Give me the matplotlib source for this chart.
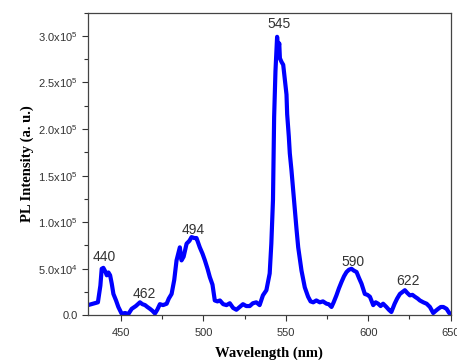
import matplotlib
matplotlib.use("Agg")
import matplotlib.pyplot as plt
from matplotlib.ticker import MultipleLocator, FuncFormatter

plt.rcParams["font.family"] = ["Liberation Sans", "DejaVu Sans"]
plt.rcParams["mathtext.fontset"] = "custom"
plt.rcParams["mathtext.rm"] = "Liberation Sans"
plt.rcParams["mathtext.it"] = "Liberation Sans"

# traced PL spectrum
wavelength = [430, 433, 436, 437.5, 438.3, 439.3, 440.5, 441.4, 442.4, 443.4, 444.4, 445.4,
              447, 448.4, 450.4, 452.5, 454.5, 456.5, 459, 461.5, 463, 464.6, 466, 467.6,
              469, 470.6, 472, 473.6, 475.5, 477.7, 479, 480.7, 482.3, 483.7, 485, 485.7,
              486.7, 488, 489.8, 491.5, 492.8, 494.5, 495.8, 497.8, 499.5, 500.9, 502.5,
              503.9, 505.5, 506.9, 508.5, 510, 512, 514, 516, 518, 520, 522, 524, 526,
              528.1, 530, 532.1, 534.1, 536.1, 538.2, 540.2, 541.2, 542.2, 542.9, 543.7,
              544.7, 545.4, 546, 546.4, 547.4, 548.4, 549.4, 550.4, 550.8, 551.8, 552.4,
              553.4, 554.4, 555.4, 556.5, 557.5, 559.5, 561.5, 563.5, 565, 566.6, 568.5,
              570.6, 572.5, 574.7, 576, 577.7, 579, 580.7, 582.2, 583.8, 585.3, 586.8,
              588.3, 589.8, 591.3, 592.9, 594.4, 595.9, 597.9, 599.5, 601, 603, 604.5,
              606, 607.5, 609, 611, 612.5, 614, 616, 617.5, 619.2, 620.7, 622.2, 623.7,
              625.2, 626.8, 628.3, 630, 631.3, 633.4, 635.4, 637.4, 639.4, 641, 642.4,
              644, 645.5, 647.5, 649.1, 650]
intensity = [1.1e4, 1.25e4, 1.4e4, 3.2e4, 5.0e4, 5.1e4, 4.7e4, 4.3e4, 4.6e4, 4.3e4, 3.4e4, 2.3e4,
             1.6e4, 9e3, 1.8e3, 2.5e3, 1.5e3, 7e3, 1.0e4, 1.4e4, 1.2e4, 1.1e4, 9e3, 7e3,
             5e3, 2e3, 6e3, 1.2e4, 1.1e4, 1.25e4, 1.8e4, 2.3e4, 3.8e4, 5.9e4, 6.8e4, 7.3e4,
             5.9e4, 6.3e4, 7.7e4, 8.0e4, 8.4e4, 8.3e4, 8.3e4, 7.3e4, 6.6e4, 5.9e4, 5.0e4,
             4.1e4, 3.3e4, 1.6e4, 1.5e4, 1.6e4, 1.2e4, 1.1e4, 1.3e4, 8e3, 6e3, 9e3, 1.2e4, 1.0e4,
             1.0e4, 1.3e4, 1.4e4, 1.1e4, 2.15e4, 2.7e4, 4.5e4, 7.7e4, 1.24e5, 2.13e5, 2.62e5,
             2.99e5, 2.85e5, 2.92e5, 2.76e5, 2.72e5, 2.69e5, 2.53e5, 2.37e5, 2.16e5, 1.92e5, 1.74e5,
             1.56e5, 1.35e5, 1.13e5, 9.2e4, 7.3e4, 4.8e4, 3.0e4, 2.0e4, 1.5e4, 1.4e4, 1.6e4,
             1.4e4, 1.5e4, 1.25e4, 1.2e4, 9e3, 1.4e4, 2.15e4, 2.9e4, 3.6e4, 4.2e4, 4.65e4,
             4.9e4, 5.0e4, 4.8e4, 4.65e4, 4.0e4, 3.4e4, 2.3e4, 2.2e4, 2.0e4, 1.1e4, 1.4e4,
             1.25e4, 1.0e4, 1.25e4, 9e3, 6e3, 3.6e3, 1.25e4, 1.8e4, 2.3e4, 2.5e4, 2.7e4, 2.4e4,
             2.15e4, 2.2e4, 2.0e4, 1.8e4, 1.6e4, 1.4e4, 1.25e4, 9e3, 2.5e3, 5e3, 7e3,
             9e3, 9e3, 7e3, 2.5e3, 1.5e3]

peak_labels = ["440", "462", "494", "545", "590", "622"]
peak_label_x = [439.7, 464, 494, 545.6, 590.8, 624.2]
peak_label_y = [6.3e4, 2.3e4, 9.2e4, 3.13e5, 5.7e4, 3.7e4]


def sci_fmt(v, pos):
    if v == 0:
        return "0.0"
    exp = 5 if v >= 1e5 else 4
    return "%.1fx10$^{%d}$" % (v / 10 ** exp, exp)


fig = plt.figure(figsize=(4.57, 3.6), dpi=100)
ax = fig.add_axes([0.1926, 0.124, 0.7936, 0.841])

ax.plot(wavelength, intensity, color="#0000ff", linewidth=3.0)

for txt, x, y in zip(peak_labels, peak_label_x, peak_label_y):
    ax.text(x, y, txt, ha="center", va="center", fontsize=10, color="#333333")

ax.set_xlim(430, 650)
ax.set_ylim(0, 3.25e5)
ax.xaxis.set_major_locator(MultipleLocator(50))
ax.xaxis.set_minor_locator(MultipleLocator(25))
ax.yaxis.set_major_locator(MultipleLocator(5e4))
ax.yaxis.set_minor_locator(MultipleLocator(2.5e4))
ax.yaxis.set_major_formatter(FuncFormatter(sci_fmt))

ax.tick_params(which="major", direction="out", length=4, width=0.8, labelsize=8, colors="#333333")
ax.tick_params(axis="x", which="major", pad=5)
ax.tick_params(which="minor", direction="out", length=3, width=0.8, colors="#333333")
ax.tick_params(top=False, right=False, which="both")
for s in ax.spines.values():
    s.set_color("#444444")
    s.set_linewidth(0.9)

ax.set_xlabel("Wavelength (nm)", family="Liberation Serif", fontweight="bold", fontsize=10.5, labelpad=6)
ax.set_ylabel("PL Intensity (a. u.)", family="Liberation Serif", fontweight="bold", fontsize=10.5, labelpad=3)

fig.savefig("out.png", dpi=100)
plt.close(fig)
